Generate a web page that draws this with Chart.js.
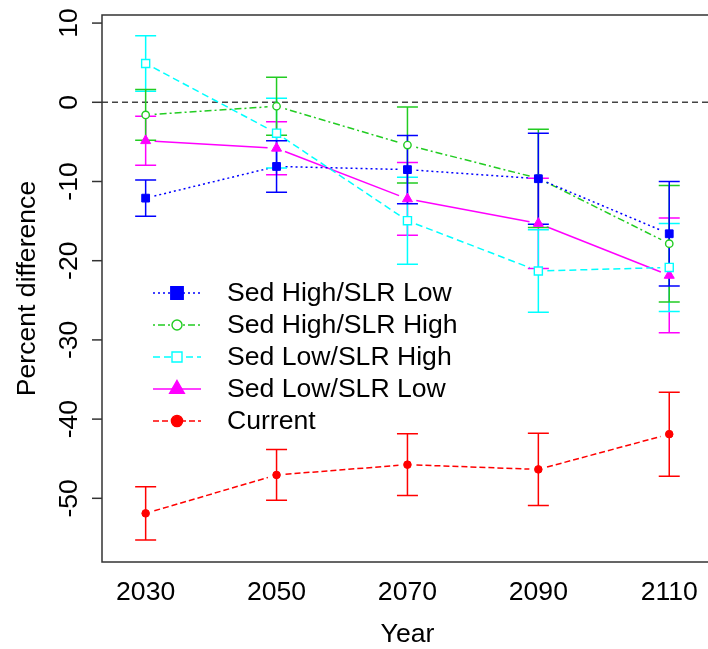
<!DOCTYPE html>
<html><head><meta charset="utf-8">
<script src="https://cdn.jsdelivr.net/npm/chart.js@4/dist/chart.umd.min.js"></script>
<style>
html,body{margin:0;padding:0;background:#fff;overflow:hidden;width:708px;height:649px}
#wrap{position:absolute;left:0;top:0;width:720px;height:649px}
</style>
</head><body><div id="wrap"><canvas id="c" width="720" height="649"></canvas></div>
<script>
// ---- data ----
const years = [2030, 2050, 2070, 2090, 2110];
const yTicks = [10, 0, -10, -20, -30, -40, -50];
const seriesNames = ['Sed High/SLR Low', 'Sed High/SLR High', 'Sed Low/SLR High', 'Sed Low/SLR Low', 'Current'];
const sedHighSlrLow     = [-12.1, -8.1, -8.5, -9.65, -16.6];
const sedHighSlrLowErr  = [2.3, 3.25, 4.3, 5.75, 6.6];
const sedHighSlrHigh    = [-1.6, -0.5, -5.4, -9.6, -17.85];
const sedHighSlrHighErr = [3.2, 3.65, 4.8, 6.2, 7.35];
const sedLowSlrHigh     = [4.9, -3.9, -14.95, -21.3, -20.85];
const sedLowSlrHighErr  = [3.5, 4.4, 5.5, 5.2, 5.55];
const sedLowSlrLow      = [-4.85, -5.8, -12.2, -15.3, -21.85];
const sedLowSlrLowErr   = [3.1, 3.35, 4.6, 5.7, 7.25];
const current           = [-51.9, -47.05, -45.75, -46.35, -41.9];
const currentErr        = [3.35, 3.2, 3.9, 4.55, 5.3];

const FONT = '"Liberation Sans", Arial, sans-serif';
const FSIZE = '26.6px ';
const values = [sedHighSlrLow, sedHighSlrHigh, sedLowSlrHigh, sedLowSlrLow, current];
const errors = [sedHighSlrLowErr, sedHighSlrHighErr, sedLowSlrHighErr, sedLowSlrLowErr, currentErr];
const colors = ['#0000FF', '#22CC22', '#00FFFF', '#FF00FF', '#FF0000'];
const dashes = [[2, 3], [2, 3, 7, 3], [7, 4], [], [6, 3]];
const styles = [
  {pointStyle: 'rect', radius: 5.5, fill: true},
  {pointStyle: 'circle', radius: 3.7, fill: false},
  {pointStyle: 'rect', radius: 5.7, fill: false},
  {pointStyle: 'triangle', radius: 5.8, fill: true},
  {pointStyle: 'circle', radius: 3.8, fill: true}
];
const legendSym = [
  {shape: 'square', size: 6.2, fill: true},
  {shape: 'circle', size: 5, fill: false},
  {shape: 'square', size: 5, fill: false},
  {shape: 'triangle', size: 8.5, fill: true},
  {shape: 'circle', size: 5.6, fill: true}
];

const datasets = values.map((arr, i) => ({
  label: seriesNames[i],
  data: years.map((yr, k) => ({x: yr, y: arr[k]})),
  showLine: false,
  borderColor: colors[i],
  backgroundColor: styles[i].fill ? colors[i] : '#FFFFFF',
  pointStyle: styles[i].pointStyle,
  pointRadius: styles[i].radius,
  pointBorderWidth: styles[i].fill ? 1 : 1.4,
  pointHoverRadius: styles[i].radius
}));

function drawSym(ctx, s, cx, cy, color) {
  ctx.save();
  ctx.setLineDash([]);
  ctx.strokeStyle = color; ctx.fillStyle = s.fill ? color : '#FFFFFF';
  ctx.lineWidth = 1.4;
  ctx.beginPath();
  if (s.shape === 'square') ctx.rect(cx - s.size, cy - s.size, 2 * s.size, 2 * s.size);
  else if (s.shape === 'circle') ctx.arc(cx, cy, s.size, 0, Math.PI * 2);
  else { const r = s.size; ctx.moveTo(cx, cy - r); ctx.lineTo(cx + r * 0.866, cy + r * 0.5); ctx.lineTo(cx - r * 0.866, cy + r * 0.5); ctx.closePath(); }
  ctx.fill(); ctx.stroke();
  ctx.restore();
}

const rStyle = {
  id: 'rStyle',
  beforeDatasetsDraw(chart) {
    const {ctx, chartArea: a, scales: {x, y}} = chart;
    ctx.save();
    ctx.beginPath(); ctx.rect(a.left, a.top, a.right - a.left, a.bottom - a.top); ctx.clip();
    // zero reference line
    const y0 = y.getPixelForValue(0);
    ctx.strokeStyle = '#444'; ctx.lineWidth = 1.5; ctx.setLineDash([6, 4]);
    ctx.beginPath(); ctx.moveTo(a.left, y0); ctx.lineTo(a.right, y0); ctx.stroke();
    // connecting lines with gaps (type "b")
    const gap = 9;
    for (let i = values.length - 1; i >= 0; i--) {
      ctx.strokeStyle = colors[i]; ctx.lineWidth = 1.5; ctx.setLineDash(dashes[i]);
      for (let k = 0; k < years.length - 1; k++) {
        const x1 = x.getPixelForValue(years[k]), y1 = y.getPixelForValue(values[i][k]);
        const x2 = x.getPixelForValue(years[k + 1]), y2 = y.getPixelForValue(values[i][k + 1]);
        const d = Math.hypot(x2 - x1, y2 - y1), ux = (x2 - x1) / d, uy = (y2 - y1) / d;
        ctx.beginPath(); ctx.moveTo(x1 + ux * gap, y1 + uy * gap); ctx.lineTo(x2 - ux * gap, y2 - uy * gap); ctx.stroke();
      }
    }
    // error bars
    ctx.setLineDash([]);
    for (let i = values.length - 1; i >= 0; i--) {
      ctx.strokeStyle = colors[i]; ctx.lineWidth = 1.5;
      years.forEach((yr, k) => {
        const px = x.getPixelForValue(yr);
        const lo = y.getPixelForValue(values[i][k] - errors[i][k]);
        const hi = y.getPixelForValue(values[i][k] + errors[i][k]);
        ctx.beginPath();
        ctx.moveTo(px, lo); ctx.lineTo(px, hi);
        ctx.moveTo(px - 10.5, lo); ctx.lineTo(px + 10.5, lo);
        ctx.moveTo(px - 10.5, hi); ctx.lineTo(px + 10.5, hi);
        ctx.stroke();
      });
    }
    ctx.restore();
  },
  afterDraw(chart) {
    const {ctx, chartArea: a, scales: {x, y}} = chart;
    ctx.save();
    // box
    ctx.strokeStyle = '#333'; ctx.lineWidth = 1.5; ctx.setLineDash([]);
    ctx.strokeRect(a.left, a.top, a.right - a.left, a.bottom - a.top);
    // y ticks
    ctx.fillStyle = '#000'; ctx.font = FSIZE + FONT;
    yTicks.forEach(v => {
      const py = y.getPixelForValue(v);
      ctx.beginPath(); ctx.moveTo(a.left - 10, py); ctx.lineTo(a.left, py); ctx.stroke();
      ctx.save(); ctx.translate(77, py); ctx.rotate(-Math.PI / 2);
      ctx.textAlign = 'center'; ctx.textBaseline = 'alphabetic';
      ctx.fillText(String(v), 0, 0); ctx.restore();
    });
    // x tick labels
    ctx.textAlign = 'center'; ctx.textBaseline = 'alphabetic';
    years.forEach(yr => ctx.fillText(String(yr), x.getPixelForValue(yr), 600));
    // axis titles
    ctx.fillText('Year', (a.left + a.right) / 2, 642);
    ctx.save(); ctx.translate(35, (a.top + a.bottom) / 2); ctx.rotate(-Math.PI / 2);
    ctx.fillText('Percent difference', 0, 0); ctx.restore();
    // legend
    const lx0 = 153, lx1 = 201, sx = 177, tx = 227, ry0 = 293, step = 32;
    seriesNames.forEach((name, i) => {
      const ry = ry0 + i * step;
      ctx.strokeStyle = colors[i]; ctx.lineWidth = 1.5; ctx.setLineDash(dashes[i]);
      ctx.beginPath(); ctx.moveTo(lx0, ry); ctx.lineTo(lx1, ry); ctx.stroke();
      drawSym(ctx, legendSym[i], sx, ry, colors[i]);
      ctx.fillStyle = '#000'; ctx.textAlign = 'left'; ctx.textBaseline = 'middle';
      ctx.fillText(name, tx, ry + 1);
    });
    ctx.restore();
  }
};

new Chart(document.getElementById('c'), {
  type: 'line',
  data: {datasets},
  options: {
    responsive: false, animation: false, devicePixelRatio: 1,
    layout: {padding: {top: 15, right: 6.3, left: 0, bottom: 0}},
    plugins: {legend: {display: false}, tooltip: {enabled: false}},
    scales: {
      x: {type: 'linear', min: 2023.33, max: 2116.67,
          grid: {display: false}, border: {display: false}, ticks: {display: false},
          afterFit: s => { s.height = 87; }},
      y: {type: 'linear', min: -58.04, max: 11.02,
          grid: {display: false}, border: {display: false}, ticks: {display: false},
          afterFit: s => { s.width = 102; }}
    }
  },
  plugins: [rStyle]
});
</script></body></html>
